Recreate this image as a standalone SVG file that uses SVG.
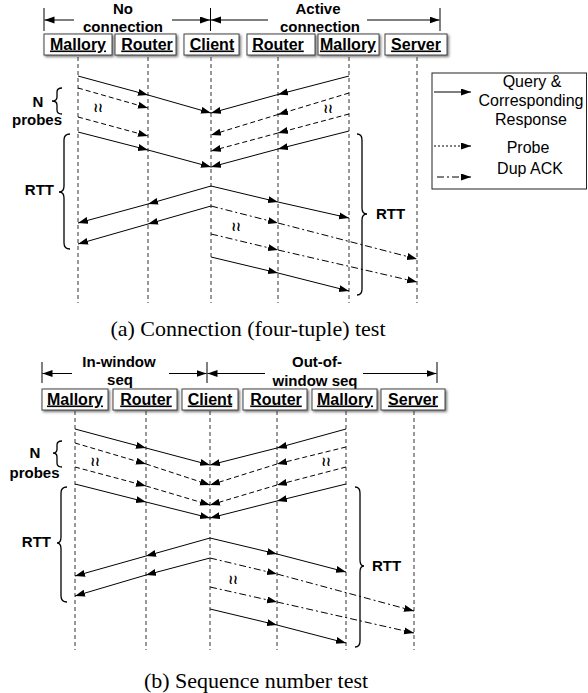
<svg xmlns="http://www.w3.org/2000/svg" width="588" height="693" viewBox="0 0 588 693">
<defs>
<marker id="ah" markerUnits="userSpaceOnUse" markerWidth="11" markerHeight="8" refX="10" refY="3.5" orient="auto">
<path d="M0,0 L10,3.5 L0,7 z" fill="#000"/>
</marker>
<filter id="sh" x="-10%" y="-10%" width="130%" height="140%">
<feDropShadow dx="1.5" dy="1.5" stdDeviation="1" flood-color="#555" flood-opacity="0.8"/>
</filter>
</defs>
<style>
.life{stroke:#333;stroke-width:1;stroke-dasharray:4,3;fill:none}
.q{stroke:#000;stroke-width:1;fill:none;marker-end:url(#ah)}
.p{stroke:#000;stroke-width:1;fill:none;stroke-dasharray:5,3;marker-end:url(#ah)}
.d{stroke:#000;stroke-width:1;fill:none;stroke-dasharray:7,3,2,3;marker-end:url(#ah)}
.tick{stroke:#000;stroke-width:1}
.brace{stroke:#000;stroke-width:1.3;fill:none}
.box{fill:#fff;stroke:#444;stroke-width:1;filter:url(#sh)}
.bt{font-family:"Liberation Sans",Arial,sans-serif;font-weight:bold;font-size:16px;text-anchor:middle;text-decoration:underline;fill:#000}
.hb{font-family:"Liberation Sans",Arial,sans-serif;font-weight:bold;font-size:15px;text-anchor:middle;fill:#000}
.lg{font-family:"Liberation Sans",Arial,sans-serif;font-size:16px;text-anchor:middle;fill:#000}
.cap{font-family:"Liberation Serif","Times New Roman",serif;font-size:22px;text-anchor:middle;fill:#000}
.sq{font-family:"DejaVu Sans",sans-serif;font-size:13px;font-weight:bold;text-anchor:middle;fill:#000}
</style>

<!-- ===== (a) ===== -->
<g id="a-header">
<line class="tick" x1="44" y1="8" x2="44" y2="31"/>
<line class="tick" x1="210.5" y1="8" x2="210.5" y2="31"/>
<line class="tick" x1="440" y1="8" x2="440" y2="31"/>
<line class="q" x1="74" y1="20" x2="44.5" y2="20"/>
<line class="q" x1="172" y1="20" x2="210" y2="20"/>
<line class="q" x1="268" y1="20" x2="211" y2="20"/>
<line class="q" x1="367" y1="20" x2="439.5" y2="20"/>
<text class="hb" x="123" y="14">No</text>
<text class="hb" x="123" y="31.5">connection</text>
<text class="hb" x="318" y="14">Active</text>
<text class="hb" x="320" y="31.5">connection</text>
</g>

<g id="a-mallory1"><rect class="box" x="44" y="34" width="68" height="21"/><text class="bt" x="78" y="49.5">Mallory</text><line class="life" x1="78" y1="57" x2="78" y2="303"/></g>
<g id="a-router1"><rect class="box" x="115" y="34" width="61" height="21"/><text class="bt" x="147" y="49.5">Router</text><line class="life" x1="148" y1="57" x2="148" y2="303"/></g>
<g id="a-client"><rect class="box" x="184" y="34" width="55" height="21"/><text class="bt" x="212" y="49.5">Client</text><line class="life" x1="211" y1="57" x2="211" y2="303"/></g>
<g id="a-router2"><rect class="box" x="247" y="34" width="68" height="21"/><text class="bt" x="278" y="49.5">Router</text><line class="life" x1="278" y1="57" x2="278" y2="303"/></g>
<g id="a-mallory2"><rect class="box" x="318" y="34" width="61" height="21"/><text class="bt" x="348" y="49.5">Mallory</text><line class="life" x1="349" y1="57" x2="349" y2="303"/></g>
<g id="a-server"><rect class="box" x="385" y="34" width="62" height="21"/><text class="bt" x="416" y="49.5">Server</text><line class="life" x1="417" y1="57" x2="417" y2="303"/></g>

<g id="a-connectors">
<line class="q" x1="78" y1="76" x2="148" y2="95"/><line class="q" x1="148" y1="95" x2="211" y2="113"/>
<line class="p" x1="78" y1="88" x2="148" y2="108"/>
<line class="p" x1="78" y1="117" x2="148" y2="136"/>
<line class="q" x1="78" y1="132" x2="148" y2="150"/><line class="q" x1="148" y1="150" x2="211" y2="167"/>
<line class="q" x1="349" y1="76" x2="278" y2="94.5"/><line class="q" x1="278" y1="94.5" x2="211" y2="113"/>
<line class="p" x1="349" y1="93" x2="278" y2="114.5"/><line class="p" x1="278" y1="114.5" x2="211" y2="135"/>
<line class="p" x1="349" y1="114" x2="278" y2="133"/><line class="p" x1="278" y1="133" x2="211" y2="151"/>
<line class="q" x1="349" y1="131" x2="278" y2="149"/><line class="q" x1="278" y1="149" x2="211" y2="167"/>
<line class="q" x1="211" y1="186" x2="148" y2="204"/><line class="q" x1="148" y1="204" x2="78" y2="223"/>
<line class="q" x1="211" y1="186" x2="278" y2="202"/><line class="q" x1="278" y1="202" x2="349" y2="218"/>
<line class="q" x1="211" y1="206" x2="148" y2="224"/><line class="q" x1="148" y1="224" x2="78" y2="244"/>
<line class="d" x1="211" y1="206" x2="278" y2="223"/><line class="d" x1="278" y1="223" x2="417" y2="259"/>
<line class="d" x1="211" y1="234" x2="278" y2="250"/><line class="d" x1="278" y1="250" x2="417" y2="282"/>
<line class="q" x1="211" y1="257" x2="278" y2="273"/><line class="q" x1="278" y1="273" x2="349" y2="291"/>
</g>

<g id="a-annotations">
<text class="sq" x="98" y="112">≀≀</text>
<text class="sq" x="328" y="113">≀≀</text>
<text class="sq" x="236" y="231">≀≀</text>
<path class="brace" d="M62,88 Q57,88 57,92 L57,97 Q57,101 52,101 Q57,101 57,105 L57,110 Q57,114 62,114"/>
<text class="hb" x="38" y="107">N</text>
<text class="hb" x="37" y="125">probes</text>
<path class="brace" d="M70,134 Q64,134 64,140 L64,186 Q64,192 59,192 Q64,192 64,198 L64,243 Q64,249 70,249"/>
<text class="hb" x="54" y="195" style="text-anchor:end">RTT</text>
<path class="brace" d="M357,134 Q362,134 362,140 L362,208 Q362,214 367,214 Q362,214 362,220 L362,289 Q362,295 357,295"/>
<text class="hb" x="376" y="219" style="text-anchor:start">RTT</text>
</g>

<g id="legend">
<rect x="432" y="73" width="154.5" height="116" fill="#fff" stroke="#222" stroke-width="1"/>
<line class="q" x1="434" y1="92" x2="471" y2="92"/>
<line x1="434" y1="146" x2="462" y2="146" stroke="#000" stroke-width="1" stroke-dasharray="2,2"/>
<line class="q" x1="462" y1="146" x2="471" y2="146"/>
<line class="d" x1="437" y1="177" x2="471" y2="177"/>
<text class="lg" x="532" y="87">Query &amp;</text>
<text class="lg" x="531" y="106">Corresponding</text>
<text class="lg" x="531" y="125">Response</text>
<text class="lg" x="528" y="153">Probe</text>
<text class="lg" x="530" y="174">Dup ACK</text>
</g>

<text id="cap-a" class="cap" x="248" y="336">(a) Connection (four-tuple) test</text>

<!-- ===== (b) ===== -->
<g id="b-header">
<line class="tick" x1="42" y1="362" x2="42" y2="383"/>
<line class="tick" x1="207" y1="362" x2="207" y2="383"/>
<line class="tick" x1="437" y1="362" x2="437" y2="383"/>
<line class="q" x1="72" y1="373.5" x2="42.5" y2="373.5"/>
<line class="q" x1="169" y1="373.5" x2="206.5" y2="373.5"/>
<line class="q" x1="265" y1="373.5" x2="207.5" y2="373.5"/>
<line class="q" x1="363" y1="373.5" x2="436.5" y2="373.5"/>
<text class="hb" x="119" y="367">In-window</text>
<text class="hb" x="120" y="385">seq</text>
<text class="hb" x="317" y="367">Out-of-</text>
<text class="hb" x="315" y="386">window seq</text>
</g>

<g id="b-mallory1"><rect class="box" x="42" y="389" width="66" height="21"/><text class="bt" x="75" y="404.5">Mallory</text><line class="life" x1="75" y1="411" x2="75" y2="650"/></g>
<g id="b-router1"><rect class="box" x="113" y="389" width="64" height="21"/><text class="bt" x="146" y="404.5">Router</text><line class="life" x1="146" y1="411" x2="146" y2="650"/></g>
<g id="b-client"><rect class="box" x="182" y="389" width="56" height="21"/><text class="bt" x="210" y="404.5">Client</text><line class="life" x1="210" y1="411" x2="210" y2="650"/></g>
<g id="b-router2"><rect class="box" x="243" y="389" width="64" height="21"/><text class="bt" x="276" y="404.5">Router</text><line class="life" x1="277" y1="411" x2="277" y2="650"/></g>
<g id="b-mallory2"><rect class="box" x="312" y="389" width="65" height="21"/><text class="bt" x="345" y="404.5">Mallory</text><line class="life" x1="346" y1="411" x2="346" y2="650"/></g>
<g id="b-server"><rect class="box" x="381" y="389" width="64" height="21"/><text class="bt" x="413" y="404.5">Server</text><line class="life" x1="414" y1="411" x2="414" y2="650"/></g>

<g id="b-connectors">
<line class="q" x1="75" y1="429" x2="146" y2="448"/><line class="q" x1="146" y1="448" x2="210" y2="465"/>
<line class="p" x1="75" y1="443" x2="146" y2="464"/><line class="p" x1="146" y1="464" x2="210" y2="485"/>
<line class="p" x1="75" y1="467" x2="146" y2="486"/><line class="p" x1="146" y1="486" x2="210" y2="505"/>
<line class="q" x1="75" y1="484" x2="146" y2="502"/><line class="q" x1="146" y1="502" x2="210" y2="518"/>
<line class="q" x1="346" y1="429" x2="277" y2="448"/><line class="q" x1="277" y1="448" x2="210" y2="465"/>
<line class="p" x1="346" y1="447" x2="277" y2="464"/><line class="p" x1="277" y1="464" x2="210" y2="485"/>
<line class="p" x1="346" y1="467" x2="277" y2="485"/><line class="p" x1="277" y1="485" x2="210" y2="505"/>
<line class="q" x1="346" y1="484" x2="277" y2="501"/><line class="q" x1="277" y1="501" x2="210" y2="518"/>
<line class="q" x1="210" y1="538" x2="146" y2="556"/><line class="q" x1="146" y1="556" x2="75" y2="576"/>
<line class="q" x1="210" y1="538" x2="277" y2="554"/><line class="q" x1="277" y1="554" x2="346" y2="572"/>
<line class="q" x1="210" y1="558" x2="146" y2="575"/><line class="q" x1="146" y1="575" x2="75" y2="596"/>
<line class="d" x1="210" y1="558" x2="277" y2="574"/><line class="d" x1="277" y1="574" x2="414" y2="611"/>
<line class="d" x1="210" y1="587" x2="277" y2="602"/><line class="d" x1="277" y1="602" x2="414" y2="633"/>
<line class="q" x1="210" y1="609" x2="277" y2="625"/><line class="q" x1="277" y1="625" x2="346" y2="643"/>
</g>

<g id="b-annotations">
<text class="sq" x="95" y="466">≀≀</text>
<text class="sq" x="326" y="466">≀≀</text>
<text class="sq" x="233" y="584">≀≀</text>
<path class="brace" d="M62,441 Q57,441 57,445 L57,449 Q57,453 53,453 Q57,453 57,457 L57,463 Q57,467 62,467"/>
<text class="hb" x="35" y="458">N</text>
<text class="hb" x="34.5" y="478">probes</text>
<path class="brace" d="M67,487 Q61,487 61,493 L61,537 Q61,543 57,543 Q61,543 61,549 L61,596 Q61,602 67,602"/>
<text class="hb" x="51" y="547" style="text-anchor:end">RTT</text>
<path class="brace" d="M355,487 Q360,487 360,493 L360,560 Q360,566 364,566 Q360,566 360,572 L360,641 Q360,647 355,647"/>
<text class="hb" x="372" y="571" style="text-anchor:start">RTT</text>
</g>

<text id="cap-b" class="cap" x="256" y="688">(b) Sequence number test</text>
</svg>
